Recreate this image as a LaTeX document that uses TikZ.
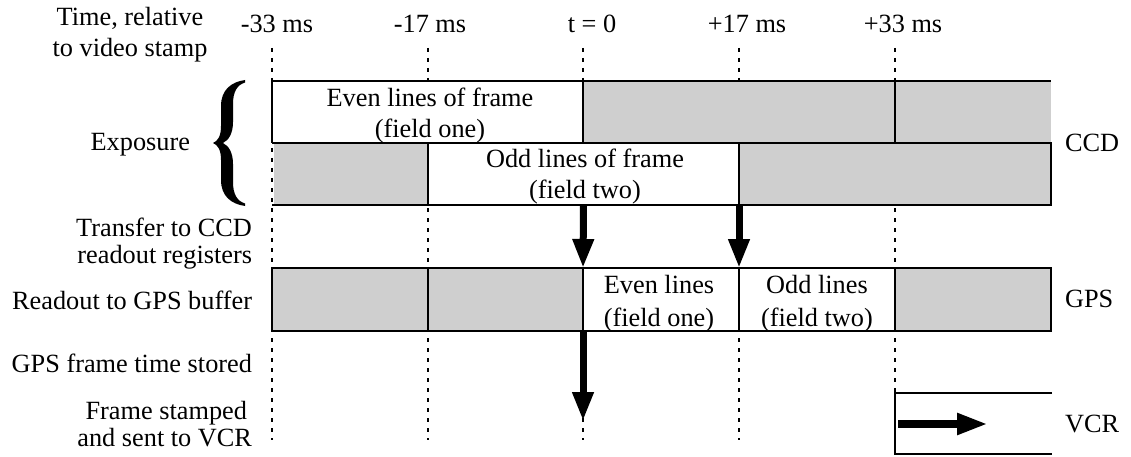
\documentclass[tikz,border=0pt]{standalone}
\usepackage{fontspec}
\setmainfont{Liberation Serif}
\usetikzlibrary{arrows.meta}
\definecolor{shade}{RGB}{207,207,207}
\begin{document}
\begin{tikzpicture}[x=1pt,y=-1pt,
  lbl/.style={font=\fontsize{26.3}{31}\selectfont, inner sep=0pt, outer sep=0pt},
  lbltight/.style={font=\fontsize{26.3}{27}\selectfont, inner sep=0pt, outer sep=0pt},
  lblwide/.style={font=\fontsize{26.3}{33}\selectfont, inner sep=0pt, outer sep=0pt},
  cell/.style={inner sep=0pt, outer sep=0pt, anchor=north west, draw=none},
  gcell/.style={cell, fill=shade},
  wcell/.style={cell, fill=white},
  edge/.style={line width=2.6pt},
  tick/.style={line width=2.6pt, dash pattern=on 4pt off 6pt},
  bigarrow/.style={line width=7pt, -{Triangle[length=29pt,width=20pt]}},
  vcrarrow/.style={line width=8pt, -{Triangle[length=31pt,width=20pt]}},
]
\useasboundingbox (0,0) rectangle (1131,457);

% time lines
\foreach \n/\x/\e in {tA/272/440, tB/428/440, tC/583/440, tD/739/440, tE/895/393} {
  \coordinate (\n-top) at (\x,48);
  \coordinate (\n-bot) at (\x,\e);
  \draw[tick] (\n-top) -- (\n-bot);
}

% row 1 (CCD, even field)
\node[wcell, minimum width=311pt, minimum height=62pt] (r1a) at (272,81) {};
\node[gcell, minimum width=312pt, minimum height=62pt] (r1b) at (583,81) {};
\node[gcell, minimum width=156pt, minimum height=62pt] (r1c) at (895,81) {};
% row 2 (CCD, odd field)
\node[gcell, minimum width=154.5pt, minimum height=62pt] (r2a) at (273.5,143) {};
\node[wcell, minimum width=311pt, minimum height=62pt] (r2b) at (428,143) {};
\node[gcell, minimum width=312pt, minimum height=62pt] (r2c) at (739,143) {};
% row 3 (GPS)
\node[gcell, minimum width=156pt, minimum height=63pt] (r3a) at (272,268) {};
\node[gcell, minimum width=155pt, minimum height=63pt] (r3b) at (428,268) {};
\node[wcell, minimum width=156pt, minimum height=63pt] (r3c) at (583,268) {};
\node[wcell, minimum width=156pt, minimum height=63pt] (r3d) at (739,268) {};
\node[gcell, minimum width=156pt, minimum height=63pt] (r3e) at (895,268) {};
% VCR
\node[wcell, minimum width=157pt, minimum height=61pt] (vcr) at (895,393) {};

% outlines
\draw[edge] (r1a.south west) -- (r1a.north west) -- (r1c.north east);
\draw[edge] (r1a.north east) -- (r1a.south east);
\draw[edge] (r1c.north west) -- (r1c.south west);
\draw[edge] (r1a.south west) -- (r2c.north east) -- (r2c.south east) -- (r2c.south east -| r1a.west);
\draw[edge] (r2b.north west) -- (r2b.south west);
\draw[edge] (r2b.north east) -- (r2b.south east);
\draw[edge] (r3a.north west) rectangle (r3e.south east);
\draw[edge] (r3b.north west) -- (r3b.south west);
\draw[edge] (r3c.north west) -- (r3c.south west);
\draw[edge] (r3d.north west) -- (r3d.south west);
\draw[edge] (r3e.north west) -- (r3e.south west);
\draw[edge] (vcr.north east) -- (vcr.north west) -- (vcr.south west) -- (vcr.south east);

% arrows
\coordinate (stored) at (583,421);
\coordinate (vcrtip) at (988,424);
\coordinate (vcrstart) at (898,424);
\draw[bigarrow] (r2b.south) -- (r3c.north west);
\draw[bigarrow] (r2b.south east) -- (r3d.north west);
\draw[bigarrow] (r3c.south west) -- (stored);
\draw[vcrarrow] (vcrstart) -- (vcrtip);

% brace
\fill (245,80) .. controls (231,82) and (221,90) .. (221,106) -- (221,126)
  .. controls (221,136) and (218,141) .. (213,143)
  .. controls (218,145) and (221,150) .. (221,160) -- (221,180)
  .. controls (221,196) and (231,204) .. (245,206) -- (245,203.5)
  .. controls (237,201) and (233,194) .. (233,182) -- (233,164)
  .. controls (233,153) and (229,146) .. (223,143)
  .. controls (229,140) and (233,133) .. (233,122) -- (233,104)
  .. controls (233,92) and (237,85) .. (245,82.5) -- cycle;

% texts
\node[lbl, align=center, anchor=base] (title) at (130,57) {Time, relative\\to video stamp};
\node[lbl, anchor=base] (m33) at (277,33) {-33 ms};
\node[lbl, anchor=base] (m17) at (430,33) {-17 ms};
\node[lbl, anchor=base] (t0) at (592,33) {t = 0};
\node[lbl, anchor=base] (p17) at (747,33) {+17 ms};
\node[lbl, anchor=base] (p33) at (903,33) {+33 ms};

\node[lbl, align=center, anchor=base] (evenlbl) at (430,138) {Even lines of frame\\(field one)};
\node[lbl, align=center, anchor=base] (oddlbl) at (585,198) {Odd lines of frame\\(field two)};
\node[lblwide, align=center, anchor=base] (evengps) at (659,326) {Even lines\\(field one)};
\node[lblwide, align=center, anchor=base] (oddgps) at (817,326) {Odd lines\\(field two)};

\node[lbl, anchor=base east] (expo) at (190,150) {Exposure};
\node[lbltight, align=right, anchor=base east] (transfer) at (252,263) {Transfer to CCD\\readout registers};
\node[lbl, anchor=base east] (readout) at (252,309) {Readout to GPS buffer};
\node[lbl, anchor=base east] (gpsstored) at (252,372) {GPS frame time stored};
\node[lbltight, align=right, anchor=base east] (stamped) at (252,446) {Frame stamped\hspace*{5pt}\\and sent to VCR};

\node[lbl, anchor=base west] (ccd) at (1065,152) {CCD};
\node[lbl, anchor=base west] (gps) at (1065,307) {GPS};
\node[lbl, anchor=base west] (vcrlbl) at (1065,432) {VCR};
\end{tikzpicture}
\end{document}
